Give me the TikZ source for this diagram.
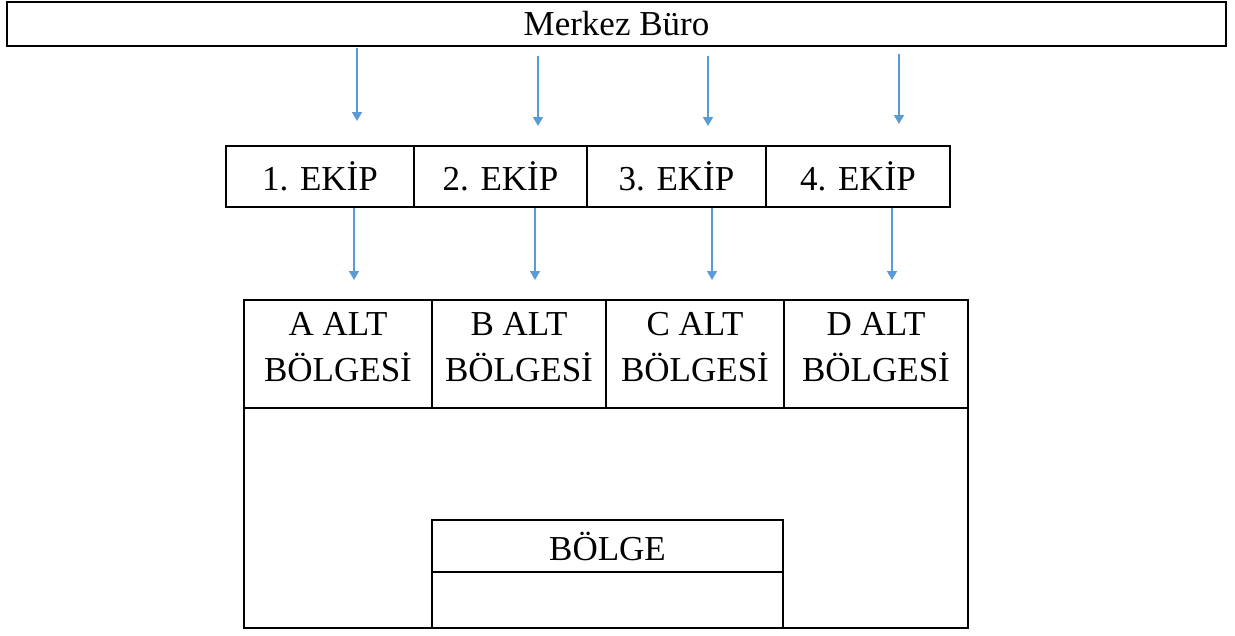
\documentclass[tikz,border=0pt]{standalone}
\usepackage{fontspec}
\setmainfont{Liberation Serif}
\usetikzlibrary{arrows.meta}

\tikzset{
  kutu/.style={draw=black, line width=1.8pt, fill=white, inner sep=0pt, align=center},
  ok/.style={draw={rgb,255:red,91;green,155;blue,213}, line width=1.6pt,
    -{Triangle[width=10pt,length=9pt]}}
}

\begin{document}
\begin{tikzpicture}[x=1pt,y=-1pt, font=\fontsize{35}{46}\selectfont]
    \useasboundingbox (0,0) rectangle (1235,635);

    % merkez
    \node[kutu, minimum width=1219pt, minimum height=44pt] (merkez) at (616.5,24) {Merkez Büro};

    % ekipler
    \node[kutu, minimum width=188pt, minimum height=61pt] (ekip1) at (320,176.5) {1. EKİP};
    \node[kutu, minimum width=173pt, minimum height=61pt] (ekip2) at (500.5,176.5) {2. EKİP};
    \node[kutu, minimum width=179pt, minimum height=61pt] (ekip3) at (676.5,176.5) {3. EKİP};
    \node[kutu, minimum width=184pt, minimum height=61pt] (ekip4) at (858,176.5) {4. EKİP};

    % bolge
    \node[kutu, minimum width=724pt, minimum height=328pt] (bolge) at (606,464) {};
    \node[kutu, minimum width=188pt, minimum height=108pt] (altA) at (338,354) {};
    \node[kutu, minimum width=174pt, minimum height=108pt] (altB) at (519,354) {};
    \node[kutu, minimum width=178pt, minimum height=108pt] (altC) at (695,354) {};
    \node[kutu, minimum width=184pt, minimum height=108pt] (altD) at (876,354) {};
    \node[align=center] (yaziA) at (altA |- 0,347) {A ALT\\BÖLGESİ};
    \node[align=center] (yaziB) at (altB |- 0,347) {B ALT\\BÖLGESİ};
    \node[align=center] (yaziC) at (altC |- 0,347) {C ALT\\BÖLGESİ};
    \node[align=center] (yaziD) at (altD |- 0,347) {D ALT\\BÖLGESİ};
    \node[kutu, minimum width=351pt, minimum height=52pt] (bolgebas) at (607.5,546) {BÖLGE};
    \node[kutu, minimum width=351pt, minimum height=56pt] (bolgealt) at (607.5,600) {};

    % oklar
    \coordinate (u1) at (357,121);
    \coordinate (u2) at (538,126);
    \coordinate (u3) at (708,126);
    \coordinate (u4) at (899,124);
    \draw[ok] ([yshift=-1pt]merkez.south -| u1) -- (u1);
    \draw[ok] ([yshift=-9pt]merkez.south -| u2) -- (u2);
    \draw[ok] ([yshift=-9pt]merkez.south -| u3) -- (u3);
    \draw[ok] ([yshift=-7pt]merkez.south -| u4) -- (u4);

    \coordinate (a1) at (354,280);
    \coordinate (a2) at (535,280);
    \coordinate (a3) at (712,280);
    \coordinate (a4) at (892,280);
    \draw[ok] (ekip1.south -| a1) -- (a1);
    \draw[ok] (ekip2.south -| a2) -- (a2);
    \draw[ok] (ekip3.south -| a3) -- (a3);
    \draw[ok] (ekip4.south -| a4) -- (a4);
\end{tikzpicture}
\end{document}
